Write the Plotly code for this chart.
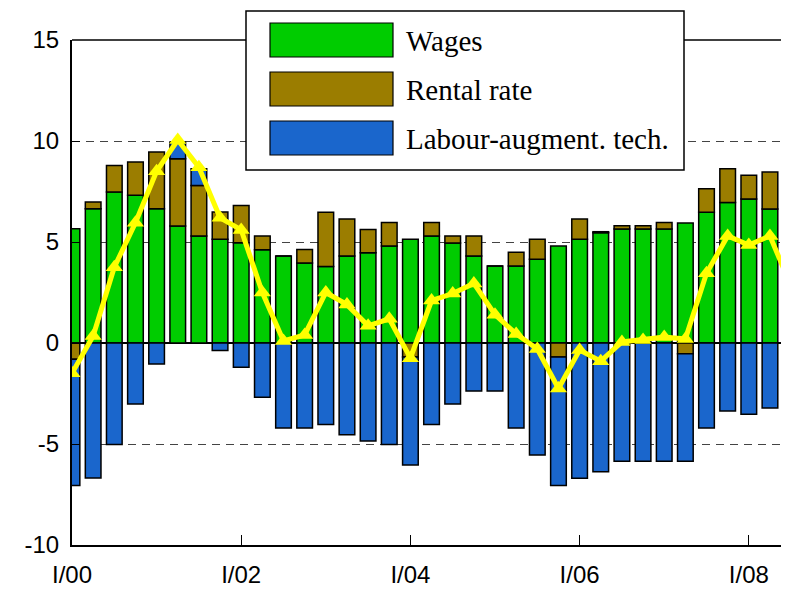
import plotly.graph_objects as go

# ---- data (quarterly, I/00 .. III/08) ----
quarters = ["I/00","II/00","III/00","IV/00","I/01","II/01","III/01","IV/01",
            "I/02","II/02","III/02","IV/02","I/03","II/03","III/03","IV/03",
            "I/04","II/04","III/04","IV/04","I/05","II/05","III/05","IV/05",
            "I/06","II/06","III/06","IV/06","I/07","II/07","III/07","IV/07",
            "I/08","II/08","III/08"]
wages = [5.66, 6.65, 7.47, 7.31, 6.65, 5.79, 5.30, 5.13, 4.96, 4.62, 4.31, 3.96,
         3.79, 4.31, 4.47, 4.80, 5.13, 5.30, 4.95, 4.31, 3.81, 3.81, 4.14, 4.80,
         5.13, 5.46, 5.64, 5.64, 5.64, 5.94, 6.47, 6.96, 7.13, 6.63, 5.94]
rental = [-0.80, 0.33, 1.32, 1.65, 2.80, 3.33, 2.50, 1.35, 1.85, 0.68, 0.00, 0.67,
          2.68, 1.83, 1.15, 1.17, -0.69, 0.67, 0.35, 0.99, 0.00, 0.68, 0.99, -0.69,
          1.01, 0.05, 0.17, 0.17, 0.33, -0.53, 1.17, 1.67, 1.17, 1.83, 0.33]
tech = [-6.25, -6.68, -5.03, -3.02, -1.04, 0.83, 0.83, -0.37, -1.20, -2.69, -4.21, -4.21,
        -4.04, -4.54, -4.85, -5.03, -5.35, -4.04, -3.02, -2.38, -2.38, -4.21, -5.55, -6.36,
        -6.70, -6.37, -5.86, -5.86, -5.86, -5.33, -4.21, -3.37, -3.53, -3.22, -3.53]
total = [-1.50, 0.35, 3.75, 5.95, 8.50, 10.05, 8.70, 6.20, 5.60, 2.50, 0.10, 0.40,
         2.50, 1.90, 0.85, 1.20, -0.75, 2.10, 2.45, 2.95, 1.40, 0.45, -0.30, -2.25,
         -0.35, -0.90, 0.05, 0.15, 0.30, 0.20, 3.45, 5.30, 4.85, 5.30, 2.80]
series_names = ["Wages", "Rental rate", "Labour-augment. tech."]
series_colors = ["#00CC00", "#9B7D00", "#1A66CC"]
tick_idx = [0, 8, 16, 24, 32]
tick_text = [quarters[i] for i in tick_idx]
y_ticks = [-10, -5, 0, 5, 10, 15]
y_tick_text = ["-10", "-5", "0", "5", "10", "15"]

x = list(range(len(quarters)))

fig = go.Figure()
for name, vals, col in zip(series_names, [wages, rental, tech], series_colors):
    fig.add_trace(go.Bar(x=x, y=vals, name=name, width=0.74,
                         marker=dict(color=col, line=dict(color="black", width=1.5)),
                         showlegend=False))
fig.add_trace(go.Scatter(x=x, y=total, mode="lines+markers", name="Total",
                         line=dict(color="#FFFF00", width=5),
                         marker=dict(symbol="triangle-up", size=15, color="#FFFF00"),
                         showlegend=False))

# page offset of the plot div (body margin) is 8px
OFF = 8
W, H = 789, 589
L, T, R, B = 72 - OFF, 40 - OFF, 789 - OFF, 545 - OFF   # plot area in figure pixels
def px(v):
    return (v - OFF - L) / (R - L)
def py(v):
    return (B - (v - OFF)) / (B - T)

shapes = [
    dict(type="line", xref="paper", yref="paper", x0=0, x1=1, y0=1, y1=1,
         line=dict(color="black", width=1.5), layer="above"),
    dict(type="rect", xref="paper", yref="paper", x0=px(246), x1=px(684),
         y0=py(170), y1=py(11), fillcolor="white", line=dict(color="black", width=1.5),
         layer="above"),
]
annotations = []
tops = [23, 72, 121]
for name, col, t in zip(series_names, series_colors, tops):
    shapes.append(dict(type="rect", xref="paper", yref="paper", x0=px(270), x1=px(393),
                       y0=py(t + 34), y1=py(t), fillcolor=col,
                       line=dict(color="black", width=1.2), layer="above"))
    annotations.append(dict(xref="paper", yref="paper", x=px(404), y=py(t + 18),
                            xanchor="left", yanchor="middle", text=name, showarrow=False,
                            font=dict(family="Liberation Serif", size=29, color="black")))

fig.update_layout(
    width=W, height=H,
    margin=dict(l=L, r=W - R, t=T, b=H - B, autoexpand=False),
    paper_bgcolor="white", plot_bgcolor="white",
    barmode="relative",
    shapes=shapes, annotations=annotations,
    font=dict(family="Liberation Sans", size=24, color="black"),
    xaxis=dict(range=[0, 33.9], tickvals=tick_idx, ticktext=tick_text,
               ticks="inside", ticklen=10, tickwidth=1, tickcolor="black",
               showline=True, linecolor="black", linewidth=2, showgrid=False,
               zeroline=False, ticklabelstandoff=7, automargin=False,
               tickfont=dict(family="Liberation Sans", size=24, color="black")),
    yaxis=dict(range=[-10, 15], tickvals=y_ticks, ticktext=y_tick_text,
               ticks="inside", ticklen=8, tickwidth=1, tickcolor="black",
               showline=True, linecolor="black", linewidth=2,
               showgrid=True, gridcolor="#444444", gridwidth=1, griddash="8px,6px",
               zeroline=True, zerolinecolor="black", zerolinewidth=1.5,
               ticklabelstandoff=6, automargin=False,
               tickfont=dict(family="Liberation Sans", size=24, color="black")),
)

fig.write_html("out.html")
